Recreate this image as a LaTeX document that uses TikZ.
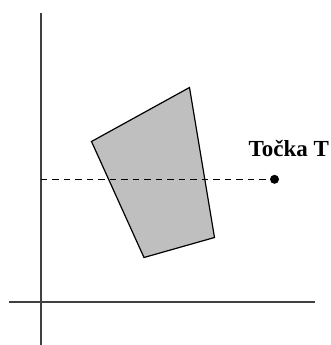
\documentclass[tikz,border=0pt]{standalone}
\usepackage{fontspec}
\setmainfont{Liberation Serif}
\tikzset{
  axisline/.style={draw=black!75, line width=1.8pt},
  quad/.style={draw=black, line width=1.2pt, fill=black!25},
  rayline/.style={draw=black, line width=1.5pt, dash pattern=on 6.5pt off 5pt},
  pointdot/.style={circle, fill=black, inner sep=0pt, minimum size=9pt},
  lbl/.style={font=\fontsize{23}{26}\selectfont\bfseries, inner sep=0pt, anchor=base west}
}
\begin{document}
\begin{tikzpicture}[x=1pt,y=-1pt]
\useasboundingbox (0,0) rectangle (331,345);
% axes
\coordinate (ytop) at (40.7,13);
\coordinate (ybot) at (40.7,345);
\coordinate (xl) at (9,302);
\coordinate (xr) at (315,302);
\draw[axisline] (ytop) -- (ybot);
\draw[axisline] (xl) -- (xr);
% polygon
\coordinate (p1) at (91.5,141.5);
\coordinate (p2) at (189.5,87.5);
\coordinate (p3) at (214.5,237.5);
\coordinate (p4) at (144,257.5);
\draw[quad] (p1) -- (p2) -- (p3) -- (p4) -- cycle;
% point and ray
\node[pointdot] (T) at (274.5,179.3) {};
\coordinate (rs) at (40.7,179.3);
\draw[rayline] (rs) -- (T.center);
\node[lbl] (tl) at (248.5,156.5) {Točka T};
\end{tikzpicture}
\end{document}
